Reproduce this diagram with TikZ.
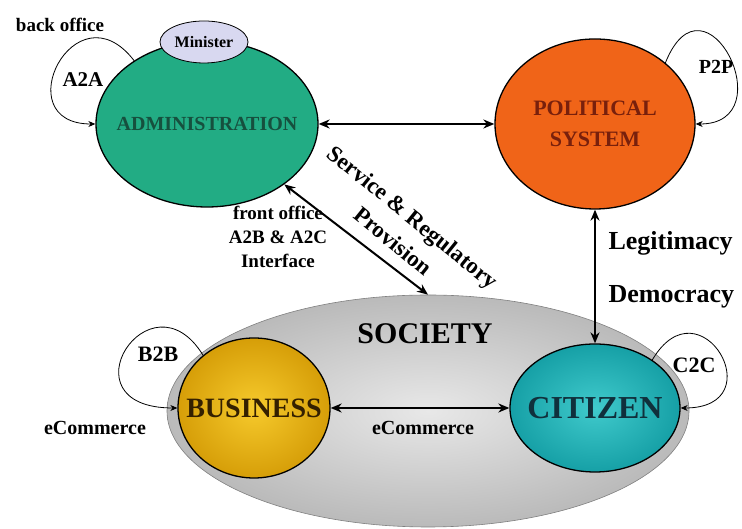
\documentclass[tikz,border=0pt]{standalone}
\usepackage{fontspec}
\setmainfont{Liberation Serif}
\usetikzlibrary{shapes.geometric,arrows.meta}
\definecolor{admgreen}{RGB}{34,172,132}
\definecolor{admtext}{RGB}{22,80,62}
\definecolor{polorange}{RGB}{240,100,24}
\definecolor{poltext}{RGB}{120,32,12}
\definecolor{minlilac}{RGB}{216,216,240}
\definecolor{busgold}{RGB}{214,158,8}
\definecolor{busin}{RGB}{246,202,44}
\definecolor{bustext}{RGB}{52,32,0}
\definecolor{citteal}{RGB}{22,160,166}
\definecolor{citin}{RGB}{64,202,204}
\definecolor{cittext}{RGB}{16,48,60}
\newcommand{\fs}[1]{\fontsize{#1}{#1}\selectfont\bfseries}
\begin{document}
\begin{tikzpicture}[x=1pt,y=1pt,>={Stealth[length=11pt,width=9pt]},line join=round,line cap=round,
	blob/.style={ellipse,draw,line width=1.3pt,inner sep=0pt},
	link/.style={<->,line width=2pt},
	selfloop/.style={->,line width=0.8pt,>={Stealth[length=7pt,width=6pt]}}]
	\useasboundingbox (0,0) rectangle (742,529);
	% the spheres
	\node[blob,line width=0.6pt,draw=gray,inner color={rgb,255:red,232;green,232;blue,232},outer color={rgb,255:red,186;green,186;blue,186},minimum width=522,minimum height=232] (society) at (428,118) {};
	\node[blob,fill=admgreen,minimum width=222,minimum height=166] (admin) at (207,405) {};
	\node[blob,fill=polorange,minimum width=200,minimum height=170] (polsys) at (595,405) {};
	\node[blob,inner color=busin,outer color=busgold,minimum width=152,minimum height=140] (business) at (254,121) {};
	\node[blob,inner color=citin,outer color=citteal,minimum width=170,minimum height=128] (citizen) at (595,121) {};
	\node[blob,line width=0.8pt,fill=minlilac,minimum width=88,minimum height=42,font=\fs{16}] (minister) at (204,487) {Minister};
	% names
	\node[font=\fs{20},text=admtext] (admin-t) at (admin) {ADMINISTRATION};
	\node[font=\fs{22},text=poltext,align=center] (polsys-t) at (polsys) {POLITICAL\\[9pt]SYSTEM};
	\node[font=\fs{28},text=bustext] (business-t) at (business) {BUSINESS};
	\node[font=\fs{32},text=cittext] (citizen-t) at (citizen) {CITIZEN};
	\node[font=\fs{30}] (society-t) at (425,195) {SOCIETY};
	% relations
	\draw[link] (admin.east) -- (polsys.west);
	\draw[link] (polsys.south) -- (citizen.north);
	\draw[link] (business.east) -- (citizen.west);
	\draw[link] (admin.-38) -- (society.north);
	% loops
	\draw[selfloop] (admin.139) .. controls (75,545) and (5,405) .. (admin.west);
	\draw[selfloop] (polsys.41) .. controls (705,565) and (785,405) .. (polsys.east);
	\draw[selfloop] (business.134) .. controls (150,260) and (60,121) .. (business.west);
	\draw[selfloop] (citizen.40) .. controls (700,250) and (775,121) .. (citizen.east);
	% labels
	\node[font=\fs{19}] (backoffice) at (60,504) {back office};
	\node[font=\fs{21}] (a2a) at (83,449) {A2A};
	\node[font=\fs{20}] (p2p) at (716,462) {P2P};
	\node[font=\fs{22}] (b2b) at (158,175) {B2B};
	\node[font=\fs{22}] (c2c) at (694,164) {C2C};
	\node[font=\fs{20}] (ecom-l) at (95,101) {eCommerce};
	\node[font=\fs{20}] (ecom-m) at (423,101) {eCommerce};
	\node[font=\fs{26},anchor=base west] (legit) at (605,279) {Legitimacy};
	\node[font=\fs{26},anchor=base west] (democ) at (605,226) {Democracy};
	\node[font=\fs{19},align=center,text height=13pt] (front) at (278,268) {front office\\[5pt]A2B \& A2C\\[5pt]Interface};
	\node[font=\fs{23},align=center,rotate=-39] (service) at (403,300) {Service \& Regulatory\\[8pt]Provision};
\end{tikzpicture}
\end{document}
